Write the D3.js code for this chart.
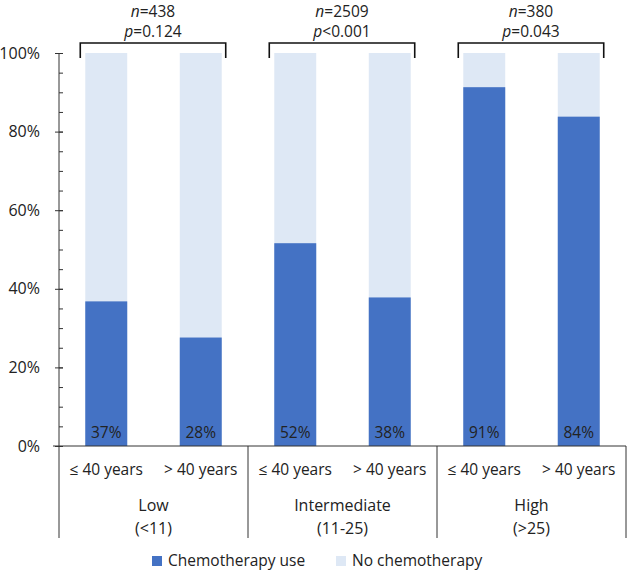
<!DOCTYPE html>
<html>
<head>
<meta charset="utf-8">
<script src="https://cdn.jsdelivr.net/npm/d3@7"></script>
<style>
  body { margin: 0; background: #fff; }
  svg { display: block; font-family: "Open Sans", sans-serif; }
  text { fill: #222; }
</style>
</head>
<body>
<svg id="chart" width="629" height="571"></svg>
<script>
"use strict"

// data
const groups = ["Low", "Intermediate", "High"];
const groupSub = ["(<11)", "(11-25)", "(>25)"];
const ages = ["≤ 40 years", "> 40 years"];
const chemoUse = [36.8, 27.6, 51.6, 37.8, 91.3, 83.8];
const chemoLabels = ["37%", "28%", "52%", "38%", "91%", "84%"];
const nValues = ["438", "2509", "380"];
const pValues = ["=0.124", "<0.001", "=0.043"];
const yTicks = [0, 20, 40, 60, 80, 100];
const seriesNames = ["Chemotherapy use", "No chemotherapy"];

const colors = { chemo: "#4472c4", none: "#dee8f5" };

const svg = d3.select("#chart");
const plotLeft = 59, plotRight = 626, plotTop = 53, plotBottom = 446, axisBottom = 538;

const bars = chemoUse.map((v, i) => ({
    i: i,
    group: Math.floor(i / 2),
    age: ages[i % 2],
    chemo: v,
    label: chemoLabels[i]
}));

const x = d3.scaleBand()
    .domain(bars.map(d => d.i))
    .range([plotLeft, plotRight])
    .paddingInner(0.556)
    .paddingOuter(0.278);

const xGroup = d3.scaleBand()
    .domain(d3.range(groups.length))
    .range([plotLeft, plotRight]);

const y = d3.scaleLinear().domain([0, 100]).range([plotBottom, plotTop]);

// stacked bars: light background to 100%, dark chemo part
svg.append("g").selectAll("rect")
    .data(bars)
    .join("rect")
    .attr("x", d => x(d.i))
    .attr("width", x.bandwidth())
    .attr("y", y(100))
    .attr("height", y(0) - y(100))
    .attr("fill", colors.none);

svg.append("g").selectAll("rect")
    .data(bars)
    .join("rect")
    .attr("x", d => x(d.i))
    .attr("width", x.bandwidth())
    .attr("y", d => y(d.chemo))
    .attr("height", d => y(0) - y(d.chemo))
    .attr("fill", colors.chemo);

svg.append("g").selectAll("text")
    .data(bars)
    .join("text")
    .attr("x", d => x(d.i) + x.bandwidth() / 2)
    .attr("y", y(0) - 8)
    .attr("text-anchor", "middle")
    .style("font-size", "15.5px")
    .text(d => d.label);

// y axis, minor ticks every 5%
svg.append("g")
    .attr("transform", `translate(${plotLeft},0)`)
    .call(d3.axisRight(y).tickValues(d3.range(0, 101, 5)).tickSize(4).tickFormat(""))
    .call(g => g.select(".domain").remove())
    .selectAll("line").attr("stroke", "#333");

svg.append("g")
    .attr("transform", `translate(${plotLeft},0)`)
    .call(d3.axisLeft(y).tickValues(yTicks).tickSize(4).tickPadding(15).tickFormat(d => d + "%"))
    .call(g => g.select(".domain").attr("d", `M0,${plotTop}V${axisBottom}`).attr("stroke", "#333"))
    .call(g => g.selectAll(".tick line").attr("x2", -4).attr("x1", 4).attr("stroke", "#333"))
    .call(g => g.selectAll(".tick text").style("font-size", "16px").style("font-family", "Open Sans").attr("fill", "#222"));

// baseline
svg.append("line")
    .attr("x1", plotLeft - 6).attr("x2", plotRight)
    .attr("y1", y(0)).attr("y2", y(0))
    .attr("stroke", "#333");

// group separators below the axis
svg.append("g").selectAll("line")
    .data(d3.range(1, groups.length + 1))
    .join("line")
    .attr("x1", d => d === groups.length ? plotRight : xGroup(d))
    .attr("x2", d => d === groups.length ? plotRight : xGroup(d))
    .attr("y1", y(0)).attr("y2", axisBottom)
    .attr("stroke", "#333");

// category labels
svg.append("g").selectAll("text")
    .data(bars)
    .join("text")
    .attr("x", d => x(d.i) + x.bandwidth() / 2)
    .attr("y", 475)
    .attr("text-anchor", "middle")
    .style("font-size", "15.5px")
    .text(d => d.age);

const groupLabels = svg.append("g").selectAll("text")
    .data(groups)
    .join("text")
    .attr("x", (d, i) => xGroup(i) + xGroup.bandwidth() / 2)
    .attr("text-anchor", "middle")
    .style("font-size", "16px");
groupLabels.append("tspan").attr("x", (d, i) => xGroup(i) + xGroup.bandwidth() / 2).attr("y", 511).text(d => d);
groupLabels.append("tspan").attr("x", (d, i) => xGroup(i) + xGroup.bandwidth() / 2).attr("y", 534).text((d, i) => groupSub[i]);

// brackets with n and p
groups.forEach((g, gi) => {
    const x0 = x(gi * 2) - 5;
    const x1 = x(gi * 2 + 1) + x.bandwidth() + 4;
    const cx = (x0 + x1) / 2;
    svg.append("path")
        .attr("d", `M${x0},58V43H${x1}V58`)
        .attr("fill", "none")
        .attr("stroke", "#111")
        .attr("stroke-width", 1.6);
    const t1 = svg.append("text").attr("x", cx).attr("y", 17).attr("text-anchor", "middle").style("font-size", "15.5px");
    t1.append("tspan").style("font-style", "italic").text("n");
    t1.append("tspan").text("=" + nValues[gi]);
    const t2 = svg.append("text").attr("x", cx).attr("y", 37).attr("text-anchor", "middle").style("font-size", "15.5px");
    t2.append("tspan").style("font-style", "italic").text("p");
    t2.append("tspan").text(pValues[gi]);
});

// legend
const legend = svg.append("g");
const legendX = [152, 336];
seriesNames.forEach((name, i) => {
    legend.append("rect")
        .attr("x", legendX[i]).attr("y", 556)
        .attr("width", 10).attr("height", 10)
        .attr("fill", i === 0 ? colors.chemo : colors.none);
    legend.append("text")
        .attr("x", legendX[i] + 16).attr("y", 566)
        .style("font-size", "15.5px")
        .text(name);
});
</script>
</body>
</html>
